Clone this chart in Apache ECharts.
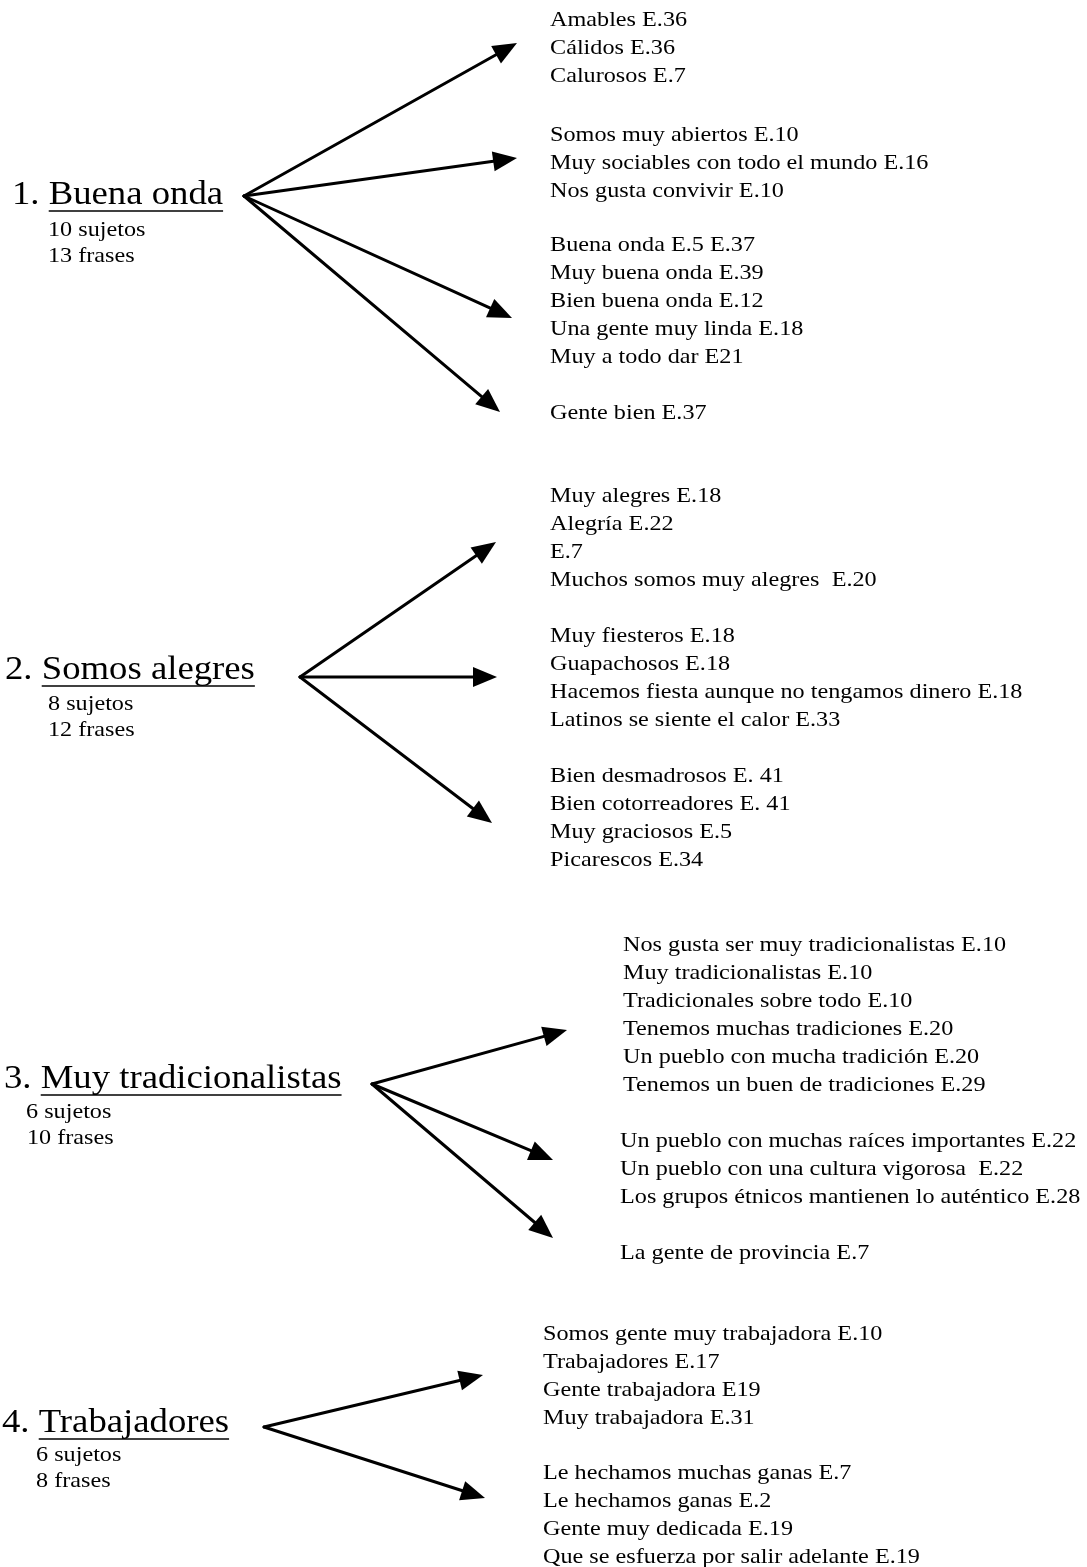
<!DOCTYPE html>
<html>
<head>
<meta charset="utf-8">
<script src="https://cdn.jsdelivr.net/npm/echarts@6/dist/echarts.min.js"></script>
<style>
  body { margin: 0; background: #fff; }
  #chart { width: 1087px; height: 1567px; }
</style>
</head>
<body>
<div id="chart"></div>
<script>
// categorías principales
const titles = ['Buena onda', 'Somos alegres', 'Muy tradicionalistas', 'Trabajadores']
const sujetos = [10, 8, 6, 6]
const frases = [13, 12, 10, 8]

// frases agrupadas por flecha
const phrases1 = [
  ['Amables E.36', 'Cálidos E.36', 'Calurosos E.7'],
  ['Somos muy abiertos E.10', 'Muy sociables con todo el mundo E.16', 'Nos gusta convivir E.10'],
  ['Buena onda E.5 E.37', 'Muy buena onda E.39', 'Bien buena onda E.12', 'Una gente muy linda E.18', 'Muy a todo dar E21'],
  ['Gente bien E.37'],
]
const phrases2 = [
  ['Muy alegres E.18', 'Alegría E.22', 'E.7', 'Muchos somos muy alegres  E.20'],
  ['Muy fiesteros E.18', 'Guapachosos E.18', 'Hacemos fiesta aunque no tengamos dinero E.18', 'Latinos se siente el calor E.33'],
  ['Bien desmadrosos E. 41', 'Bien cotorreadores E. 41', 'Muy graciosos E.5', 'Picarescos E.34'],
]
const phrases3 = [
  ['Nos gusta ser muy tradicionalistas E.10', 'Muy tradicionalistas E.10', 'Tradicionales sobre todo E.10', 'Tenemos muchas tradiciones E.20', 'Un pueblo con mucha tradición E.20', 'Tenemos un buen de tradiciones E.29'],
  ['Un pueblo con muchas raíces importantes E.22', 'Un pueblo con una cultura vigorosa  E.22', 'Los grupos étnicos mantienen lo auténtico E.28'],
  ['La gente de provincia E.7'],
]
const phrases4 = [
  ['Somos gente muy trabajadora E.10', 'Trabajadores E.17', 'Gente trabajadora E19', 'Muy trabajadora E.31'],
  ['Le hechamos muchas ganas E.7', 'Le hechamos ganas E.2', 'Gente muy dedicada E.19', 'Que se esfuerza por salir adelante E.19'],
]
const phrases = [phrases1, phrases2, phrases3, phrases4]

// ---- layout (pixel space of the page) ----
const titlePos = [[12, 195], [5, 670], [4, 1079], [2, 1423]]
const subX = [48, 48, 26, 36]
const subY = [230, 704, 1112, 1455]
const originPos = [[244, 196], [300, 677], [372, 1084], [264, 1427]]
const tipPos = [
  [[517, 43], [517, 158], [512, 318], [500, 412]],
  [[496, 542], [497, 677], [492, 823]],
  [[567, 1030], [553, 1160], [553, 1238]],
  [[483, 1375], [485, 1498]],
]
const clusterPos = [
  [[550, 20], [550, 135], [550, 245], [550, 413]],
  [[550, 496], [550, 636], [550, 776]],
  [[623, 945], [620, 1141], [620, 1253]],
  [[543, 1334], [543, 1473]],
]
const lineStep = 28
const subStep = 26

const FAMILY = '"Liberation Serif", "Times New Roman", serif'
const TITLE_SIZE = 34
const SUB_SIZE = 22
const PHRASE_SIZE = 22
const STRETCH = 1.1      // the scanned text is a bit wide
const TITLE_STRETCH = 1.08

const measureCtx = document.createElement('canvas').getContext('2d')
function textWidth(str, size) {
  measureCtx.font = size + 'px ' + FAMILY
  return measureCtx.measureText(str).width
}

// arrow data
const arrowData = []
originPos.forEach((o, g) => {
  tipPos[g].forEach(t => arrowData.push([o[0], o[1], t[0], t[1]]))
})

// phrase text data
const phraseData = []
const phraseText = []
phrases.forEach((group, g) => {
  group.forEach((cluster, c) => {
    cluster.forEach((line, k) => {
      phraseData.push([clusterPos[g][c][0], clusterPos[g][c][1] + k * lineStep])
      phraseText.push(line)
    })
  })
})

// sub text (sujetos / frases)
const subData = []
const subText = []
titles.forEach((t, g) => {
  subData.push([subX[g], subY[g]])
  subText.push(sujetos[g] + ' sujetos')
  subData.push([subX[g] + (g === 2 ? 1 : 0), subY[g] + subStep])
  subText.push(frases[g] + ' frases')
})

const titleData = titlePos.map(p => [p[0], p[1]])

function plainText(params, api, texts, size, stretch) {
  const p = api.coord([api.value(0), api.value(1)])
  return {
    type: 'text',
    x: p[0], y: p[1],
    scaleX: stretch,
    style: {
      text: texts[params.dataIndex],
      font: size + 'px ' + FAMILY,
      fill: '#000',
      align: 'left',
      verticalAlign: 'middle',
    },
  }
}

const chart = echarts.init(document.getElementById('chart'))

const option = {
  animation: false,
  grid: { left: 0, right: 0, top: 0, bottom: 0 },
  xAxis: { type: 'value', min: 0, max: 1087, show: false },
  yAxis: { type: 'value', min: 0, max: 1567, inverse: true, show: false },
  series: [
    {
      type: 'custom',
      name: 'flechas',
      data: arrowData,
      renderItem: function (params, api) {
        const p0 = api.coord([api.value(0), api.value(1)])
        const p1 = api.coord([api.value(2), api.value(3)])
        const dx = p1[0] - p0[0], dy = p1[1] - p0[1]
        const len = Math.sqrt(dx * dx + dy * dy)
        const ux = dx / len, uy = dy / len
        const headLen = 24, headW = 10
        const bx = p1[0] - ux * headLen, by = p1[1] - uy * headLen
        return {
          type: 'group',
          children: [
            {
              type: 'line',
              shape: { x1: p0[0], y1: p0[1], x2: bx + ux * 2, y2: by + uy * 2 },
              style: { stroke: '#000', lineWidth: 3, lineCap: 'round' },
            },
            {
              type: 'polygon',
              shape: {
                points: [
                  [p1[0], p1[1]],
                  [bx - uy * headW, by + ux * headW],
                  [bx + uy * headW, by - ux * headW],
                ],
              },
              style: { fill: '#000' },
            },
          ],
        }
      },
    },
    {
      type: 'custom',
      name: 'titulos',
      data: titleData,
      renderItem: function (params, api) {
        const p = api.coord([api.value(0), api.value(1)])
        const i = params.dataIndex
        const num = (i + 1) + '. '
        const w0 = textWidth(num, TITLE_SIZE) * TITLE_STRETCH
        const w1 = textWidth(titles[i], TITLE_SIZE) * TITLE_STRETCH
        const x1 = p[0] + w0
        const font = TITLE_SIZE + 'px ' + FAMILY
        return {
          type: 'group',
          children: [
            {
              type: 'text',
              x: p[0], y: p[1], scaleX: TITLE_STRETCH,
              style: { text: num, font: font, fill: '#000', align: 'left', verticalAlign: 'middle' },
            },
            {
              type: 'text',
              x: x1, y: p[1], scaleX: TITLE_STRETCH,
              style: { text: titles[i], font: font, fill: '#000', align: 'left', verticalAlign: 'middle' },
            },
            {
              type: 'line',
              shape: { x1: x1, y1: p[1] + 16, x2: x1 + w1, y2: p[1] + 16 },
              style: { stroke: '#000', lineWidth: 1.6 },
            },
          ],
        }
      },
    },
    {
      type: 'custom',
      name: 'conteos',
      data: subData,
      renderItem: function (params, api) {
        return plainText(params, api, subText, SUB_SIZE, STRETCH)
      },
    },
    {
      type: 'custom',
      name: 'frases',
      data: phraseData,
      renderItem: function (params, api) {
        return plainText(params, api, phraseText, PHRASE_SIZE, STRETCH)
      },
    },
  ],
}

option && chart.setOption(option)
</script>
</body>
</html>
